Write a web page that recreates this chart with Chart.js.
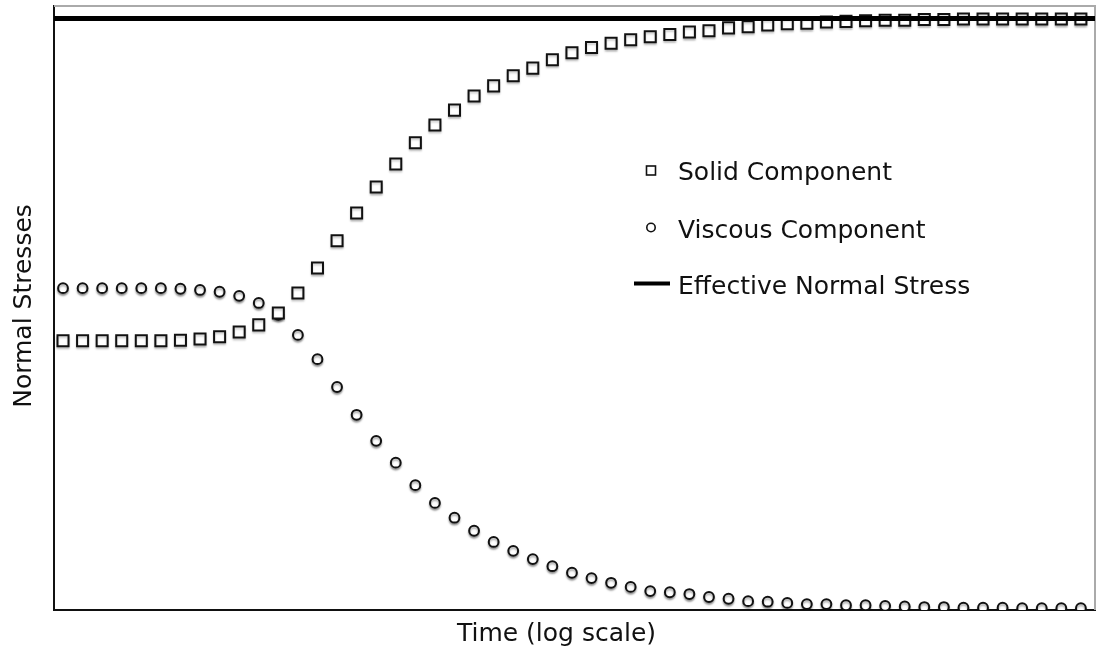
<!DOCTYPE html>
<html>
<head>
<meta charset="utf-8">
<title>Normal Stresses</title>
<script src="https://cdn.jsdelivr.net/npm/chart.js@4.4.0/dist/chart.umd.min.js"></script>
<style>
  html, body { margin: 0; padding: 0; background: #fff; }
  #wrap { width: 1097px; height: 650px; }
</style>
</head>
<body>
<div id="wrap"><canvas id="stressChart" width="1097" height="650"></canvas></div>
<script>
// time steps, equally spaced on the log-time axis
const timeSteps = [0, 1, 2, 3, 4, 5, 6, 7, 8, 9, 10, 11, 12, 13, 14, 15, 16, 17, 18, 19,
  20, 21, 22, 23, 24, 25, 26, 27, 28, 29, 30, 31, 32, 33, 34, 35, 36, 37, 38, 39,
  40, 41, 42, 43, 44, 45, 46, 47, 48, 49, 50, 51, 52];

// stresses as a fraction of the effective normal stress
const solidComponent = [0.455, 0.455, 0.455, 0.455, 0.455, 0.455, 0.456, 0.458, 0.462, 0.470,
  0.482, 0.502, 0.536, 0.578, 0.624, 0.671, 0.715, 0.754, 0.790, 0.820,
  0.845, 0.869, 0.886, 0.903, 0.916, 0.930, 0.942, 0.951, 0.958, 0.964,
  0.969, 0.973, 0.977, 0.979, 0.984, 0.986, 0.989, 0.991, 0.992, 0.994,
  0.995, 0.996, 0.997, 0.997, 0.998, 0.998, 0.999, 0.999, 0.999, 0.999,
  0.999, 0.999, 0.999];

const viscousComponent = [0.544, 0.544, 0.544, 0.544, 0.544, 0.544, 0.543, 0.541, 0.538, 0.531,
  0.519, 0.499, 0.465, 0.424, 0.377, 0.330, 0.286, 0.249, 0.211, 0.181,
  0.156, 0.134, 0.115, 0.100, 0.086, 0.074, 0.063, 0.054, 0.046, 0.039,
  0.032, 0.030, 0.027, 0.022, 0.019, 0.015, 0.014, 0.012, 0.010, 0.010,
  0.008, 0.008, 0.007, 0.006, 0.005, 0.005, 0.004, 0.004, 0.004, 0.003,
  0.003, 0.003, 0.003];

const effectiveStress = 1.0;

const seriesLabels = ['Solid Component', 'Viscous Component', 'Effective Normal Stress'];
const axisTitles = { x: 'Time (log scale)', y: 'Normal Stresses' };

const X_MIN = -0.46, X_MAX = 52.72;
const Y_MIN = 0, Y_MAX = 1.021;
const FONT = '25px "DejaVu Sans", Verdana, sans-serif';

function toPoints(values) {
  return values.map((v, i) => ({ x: timeSteps[i], y: v }));
}

// frame, drop shadows under markers, axis titles and the in-plot legend
const decorPlugin = {
  id: 'decor',
  beforeDatasetsDraw(chart) {
    const { ctx, chartArea: a } = chart;
    ctx.save();
    ctx.strokeStyle = '#aaa';
    ctx.lineWidth = 2;
    ctx.beginPath();
    ctx.moveTo(a.left, a.top);
    ctx.lineTo(a.right, a.top);
    ctx.lineTo(a.right, a.bottom);
    ctx.stroke();
    ctx.restore();
  },
  beforeDatasetDraw(chart, args) {
    const ds = chart.data.datasets[args.index];
    if (!ds.shadow) return;
    const ctx = chart.ctx;
    ctx.save();
    ctx.shadowColor = ds.shadow;
    ctx.shadowOffsetY = 2;
    ctx.shadowBlur = 2;
  },
  afterDatasetDraw(chart, args) {
    const ds = chart.data.datasets[args.index];
    if (ds.shadow) chart.ctx.restore();
  },
  afterDraw(chart) {
    const ctx = chart.ctx;
    const ds = chart.data.datasets;
    ctx.save();
    ctx.fillStyle = '#111';
    ctx.font = FONT;
    ctx.textBaseline = 'alphabetic';

    // axis titles
    ctx.textAlign = 'center';
    ctx.fillText(axisTitles.x, 556.5, 641);
    ctx.save();
    ctx.translate(31, 306);
    ctx.rotate(-Math.PI / 2);
    ctx.fillText(axisTitles.y, 0, 0);
    ctx.restore();

    // legend
    ctx.textAlign = 'left';
    const solid = ds.find(d => d.label === seriesLabels[0]);
    const viscous = ds.find(d => d.label === seriesLabels[1]);
    const eff = ds.find(d => d.label === seriesLabels[2]);

    ctx.lineWidth = 1.6;
    ctx.strokeStyle = solid.borderColor;
    ctx.fillStyle = '#fff';
    ctx.fillRect(646.5, 166, 9, 9);
    ctx.strokeRect(646.5, 166, 9, 9);

    ctx.strokeStyle = viscous.borderColor;
    ctx.beginPath();
    ctx.arc(651, 227.5, 4.2, 0, Math.PI * 2);
    ctx.fill();
    ctx.stroke();

    ctx.strokeStyle = eff.borderColor;
    ctx.lineWidth = 4;
    ctx.beginPath();
    ctx.moveTo(634, 283.5);
    ctx.lineTo(670, 283.5);
    ctx.stroke();

    ctx.fillStyle = '#111';
    ctx.fillText(seriesLabels[0], 678, 179.5);
    ctx.fillText(seriesLabels[1], 678, 237.5);
    ctx.fillText(seriesLabels[2], 678, 293.5);
    ctx.restore();
  }
};

const ctx = document.getElementById('stressChart').getContext('2d');
const stressChart = new Chart(ctx, {
  type: 'scatter',
  data: {
    datasets: [
      {
        label: seriesLabels[2],
        type: 'line',
        data: [{ x: X_MIN, y: effectiveStress }, { x: X_MAX, y: effectiveStress }],
        borderColor: '#000',
        borderWidth: 5,
        pointRadius: 0,
        showLine: true,
        order: 0
      },
      {
        label: seriesLabels[0],
        data: toPoints(solidComponent),
        pointStyle: 'rect',
        pointRadius: 7.8,
        borderWidth: 2,
        borderColor: '#111',
        backgroundColor: '#fff',
        shadow: 'rgba(0,0,0,0.2)',
        order: 1
      },
      {
        label: seriesLabels[1],
        data: toPoints(viscousComponent),
        pointStyle: 'circle',
        pointRadius: 4.9,
        borderWidth: 2,
        borderColor: '#111',
        backgroundColor: '#fff',
        shadow: 'rgba(0,0,0,0.35)',
        order: 2
      }
    ]
  },
  options: {
    responsive: false,
    animation: false,
    layout: { autoPadding: false, padding: { top: 6, right: 2, left: 0, bottom: 0 } },
    plugins: {
      legend: { display: false },
      tooltip: { enabled: false }
    },
    scales: {
      x: {
        type: 'linear',
        min: X_MIN,
        max: X_MAX,
        grid: { display: false },
        ticks: { display: false },
        border: { display: true, color: '#111', width: 2 },
        afterFit(scale) { scale.height = 40; }
      },
      y: {
        type: 'linear',
        min: Y_MIN,
        max: Y_MAX,
        grid: { display: false },
        ticks: { display: false },
        border: { display: true, color: '#111', width: 2 },
        afterFit(scale) { scale.width = 54; }
      }
    }
  },
  plugins: [decorPlugin]
});
</script>
</body>
</html>
